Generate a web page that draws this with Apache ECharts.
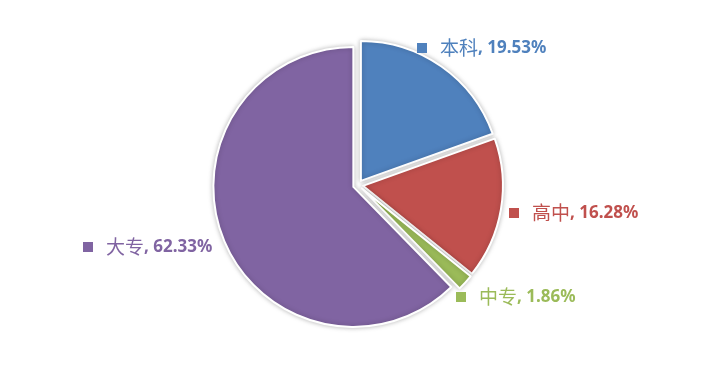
<!DOCTYPE html>
<html><head><meta charset="utf-8">
<script src="https://cdn.jsdelivr.net/npm/echarts@6/dist/echarts.min.js"></script>
<style>html,body{margin:0;padding:0;background:#fff}#c{width:717px;height:371px}</style>
</head><body><div id="c"></div>
<script>
const categories = ['本科', '高中', '中专', '大专'];
const values = [19.53, 16.28, 1.86, 62.33];
const colors = ['#4F81BD', '#C0504D', '#9BBB59', '#8064A2'];
const labelPos = [[417, 48], [509, 213], [456, 297], [83, 247]];

const chart = echarts.init(document.getElementById('c'));
const data = categories.map((n, i) => ({
  name: n, value: values[i], selected: true,
  itemStyle: { color: colors[i] }
}));
const legends = categories.map((n, i) => ({
  data: [n],
  left: labelPos[i][0],
  top: labelPos[i][1] - 12,
  padding: 0,
  orient: 'horizontal',
  icon: 'rect',
  itemWidth: 10,
  itemHeight: 10,
  selectedMode: false,
  itemStyle: { color: colors[i], borderWidth: 0, shadowBlur: 0, shadowColor: 'transparent' },
  formatter: function (name) { return '{t|' + name + '}{n|, ' + values[i].toFixed(2) + '%}'; },
  textStyle: {
    color: colors[i],
    lineHeight: 24,
    rich: {
      t: { color: colors[i], fontSize: 19, lineHeight: 24, fontFamily: 'Noto Sans CJK SC', padding: [0, 0, 0, 8] },
      n: { color: colors[i], fontSize: 17, lineHeight: 24, fontWeight: 'bold', fontFamily: 'Noto Sans' }
    }
  }
}));
chart.setOption({
  animation: false,
  legend: legends,
  series: [{
    type: 'pie',
    center: [358, 185],
    radius: 140,
    startAngle: 90,
    clockwise: true,
    selectedMode: 'multiple',
    selectedOffset: 5,
    emphasis: { disabled: true },
    itemStyle: { borderColor: '#fff', borderWidth: 2, shadowBlur: 5, shadowColor: 'rgba(0,0,0,0.25)' },
    label: { show: false },
    labelLine: { show: false },
    data: data
  }]
});
</script></body></html>
